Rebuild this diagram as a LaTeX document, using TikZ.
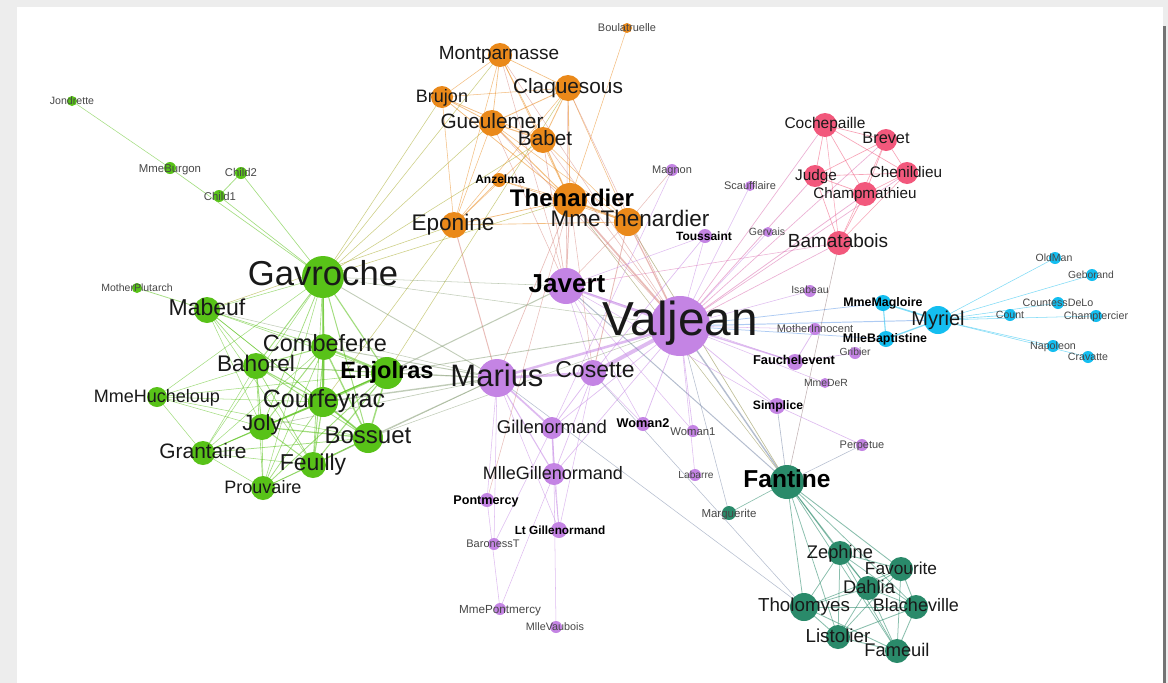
\documentclass[tikz,border=0pt]{standalone}
\usepackage{fontspec}
\setmainfont{Liberation Sans}
\pgfdeclarelayer{frame}
\pgfdeclarelayer{edges}
\pgfsetlayers{frame,edges,main}
\definecolor{grn}{RGB}{88,194,24}
\definecolor{org}{RGB}{234,137,26}
\definecolor{pnk}{RGB}{242,88,124}
\definecolor{pur}{RGB}{196,132,228}
\definecolor{blu}{RGB}{20,190,240}
\definecolor{tea}{RGB}{42,138,106}
\tikzset{
 nd/.style={circle,inner sep=0pt,draw=none},
 lb/.style={inner sep=0pt,text=black!90,font=\fontsize{#1}{#1}\selectfont},
 lbb/.style={inner sep=0pt,text=black,font=\bfseries\fontsize{#1}{#1}\selectfont},
 lbs/.style={inner sep=0pt,text=black!72,font=\fontsize{#1}{#1}\selectfont},
 edgeline/.style={draw opacity=0.55,line cap=round},
}
\newcommand\gnd[5]{\colorlet{c#1}{#5}\node[nd,minimum size=#4pt,fill=#5] (#1) at (#2,#3) {};}
\newcommand\glb[6]{\node[#5=#6,anchor=base,yshift={-0.36*#6pt}] (l#1) at (#2,#3) {#4};}
\newcommand\ged[3]{\pgfmathsetmacro\gedw{0.42+0.11*#3}\draw[edgeline,line width=\gedw pt,draw=c#1!50!c#2] (#1.center) -- (#2.center);}
\begin{document}
\begin{tikzpicture}[x=1pt,y=-1pt]
\useasboundingbox (0,0) rectangle (1168,683);
\begin{pgfonlayer}{frame}
\fill[black!7] (0,0) rectangle (1168,683);
\fill[white] (17,7) rectangle (1163,683);
\fill[black!55] (1163,26) rectangle (1166,683);
\end{pgfonlayer}
% ---- nodes: green
\gnd{Jondrette}{72}{101}{10}{grn}
\gnd{MmeBurgon}{170}{168}{12}{grn}
\gnd{Child2}{241}{173}{12}{grn}
\gnd{Child1}{219}{196}{12}{grn}
\gnd{MotherPlutarch}{137}{288}{10}{grn}
\gnd{Gavroche}{323}{277}{42}{grn}
\gnd{Mabeuf}{207}{310}{26}{grn}
\gnd{Combeferre}{324}{347}{26}{grn}
\gnd{Bahorel}{256}{366}{26}{grn}
\gnd{Enjolras}{387}{373}{32}{grn}
\gnd{MmeHucheloup}{157}{397}{20}{grn}
\gnd{Courfeyrac}{323}{402}{30}{grn}
\gnd{Joly}{262}{427}{26}{grn}
\gnd{Bossuet}{368}{438}{30}{grn}
\gnd{Grantaire}{203}{453}{24}{grn}
\gnd{Feuilly}{313}{465}{26}{grn}
\gnd{Prouvaire}{263}{488}{24}{grn}
% orange
\gnd{Boulatruelle}{627}{28}{10}{org}
\gnd{Montparnasse}{500}{55}{24}{org}
\gnd{Claquesous}{568}{88}{26}{org}
\gnd{Brujon}{442}{97}{22}{org}
\gnd{Gueulemer}{492}{123}{26}{org}
\gnd{Babet}{543}{140}{26}{org}
\gnd{Anzelma}{499}{180}{14}{org}
\gnd{Thenardier}{570}{200}{34}{org}
\gnd{MmeThenardier}{628}{222}{28}{org}
\gnd{Eponine}{454}{225}{26}{org}
% pink
\gnd{Cochepaille}{825}{125}{24}{pnk}
\gnd{Brevet}{886}{140}{22}{pnk}
\gnd{Chenildieu}{907}{173}{22}{pnk}
\gnd{Judge}{815}{176}{22}{pnk}
\gnd{Champmathieu}{865}{194}{24}{pnk}
\gnd{Bamatabois}{839}{243}{24}{pnk}
% blue
\gnd{MmeMagloire}{883}{303}{16}{blu}
\gnd{Myriel}{938}{320}{28}{blu}
\gnd{MlleBaptistine}{886}{339}{16}{blu}
\gnd{OldMan}{1055}{258}{12}{blu}
\gnd{Geborand}{1092}{275}{12}{blu}
\gnd{CountessDeLo}{1058}{303}{12}{blu}
\gnd{Count}{1010}{315}{12}{blu}
\gnd{Champtercier}{1096}{316}{12}{blu}
\gnd{Napoleon}{1053}{346}{12}{blu}
\gnd{Cravatte}{1088}{357}{12}{blu}
% purple
\gnd{Magnon}{672}{170}{12}{pur}
\gnd{Scaufflaire}{750}{186}{10}{pur}
\gnd{Gervais}{768}{232}{10}{pur}
\gnd{Toussaint}{705}{236}{14}{pur}
\gnd{Isabeau}{810}{291}{12}{pur}
\gnd{MotherInnocent}{815}{329}{12}{pur}
\gnd{Gribier}{855}{353}{12}{pur}
\gnd{Fauchelevent}{795}{362}{16}{pur}
\gnd{MmeDeR}{825}{383}{10}{pur}
\gnd{Javert}{566}{286}{36}{pur}
\gnd{Valjean}{680}{326}{60}{pur}
\gnd{Marius}{497}{378}{38}{pur}
\gnd{Cosette}{593}{373}{26}{pur}
\gnd{Gillenormand}{552}{428}{22}{pur}
\gnd{Woman2}{643}{424}{14}{pur}
\gnd{Woman1}{693}{431}{12}{pur}
\gnd{MlleGillenormand}{554}{474}{22}{pur}
\gnd{Labarre}{695}{475}{12}{pur}
\gnd{Pontmercy}{487}{500}{14}{pur}
\gnd{LtGillenormand}{559}{530}{16}{pur}
\gnd{BaronessT}{494}{544}{12}{pur}
\gnd{MmePontmercy}{500}{609}{12}{pur}
\gnd{MlleVaubois}{556}{627}{12}{pur}
\gnd{Simplice}{777}{406}{16}{pur}
\gnd{Perpetue}{862}{445}{12}{pur}
% teal
\gnd{Marguerite}{729}{513}{14}{tea}
\gnd{Fantine}{787}{482}{34}{tea}
\gnd{Zephine}{840}{553}{24}{tea}
\gnd{Favourite}{901}{569}{24}{tea}
\gnd{Dahlia}{868}{588}{24}{tea}
\gnd{Tholomyes}{804}{607}{28}{tea}
\gnd{Blacheville}{916}{607}{24}{tea}
\gnd{Listolier}{838}{637}{24}{tea}
\gnd{Fameuil}{897}{651}{24}{tea}
% ---- edges
\begin{pgfonlayer}{edges}
\ged{Napoleon}{Myriel}{1}
\ged{MlleBaptistine}{Myriel}{8}
\ged{MmeMagloire}{Myriel}{10}
\ged{MmeMagloire}{MlleBaptistine}{6}
\ged{CountessDeLo}{Myriel}{1}
\ged{Geborand}{Myriel}{1}
\ged{Champtercier}{Myriel}{1}
\ged{Cravatte}{Myriel}{1}
\ged{Count}{Myriel}{2}
\ged{OldMan}{Myriel}{1}
\ged{Valjean}{Labarre}{1}
\ged{Valjean}{MmeMagloire}{3}
\ged{Valjean}{MlleBaptistine}{3}
\ged{Valjean}{Myriel}{5}
\ged{Marguerite}{Valjean}{1}
\ged{MmeDeR}{Valjean}{1}
\ged{Isabeau}{Valjean}{1}
\ged{Gervais}{Valjean}{1}
\ged{Listolier}{Tholomyes}{4}
\ged{Fameuil}{Tholomyes}{4}
\ged{Fameuil}{Listolier}{4}
\ged{Blacheville}{Tholomyes}{4}
\ged{Blacheville}{Listolier}{4}
\ged{Blacheville}{Fameuil}{4}
\ged{Favourite}{Tholomyes}{3}
\ged{Favourite}{Listolier}{3}
\ged{Favourite}{Fameuil}{3}
\ged{Favourite}{Blacheville}{4}
\ged{Dahlia}{Tholomyes}{3}
\ged{Dahlia}{Listolier}{3}
\ged{Dahlia}{Fameuil}{3}
\ged{Dahlia}{Blacheville}{3}
\ged{Dahlia}{Favourite}{5}
\ged{Zephine}{Tholomyes}{3}
\ged{Zephine}{Listolier}{3}
\ged{Zephine}{Fameuil}{3}
\ged{Zephine}{Blacheville}{3}
\ged{Zephine}{Favourite}{4}
\ged{Zephine}{Dahlia}{4}
\ged{Fantine}{Tholomyes}{3}
\ged{Fantine}{Listolier}{3}
\ged{Fantine}{Fameuil}{3}
\ged{Fantine}{Blacheville}{3}
\ged{Fantine}{Favourite}{4}
\ged{Fantine}{Dahlia}{4}
\ged{Fantine}{Zephine}{4}
\ged{Fantine}{Marguerite}{2}
\ged{Fantine}{Valjean}{9}
\ged{MmeThenardier}{Fantine}{2}
\ged{MmeThenardier}{Valjean}{7}
\ged{Thenardier}{MmeThenardier}{13}
\ged{Thenardier}{Fantine}{1}
\ged{Thenardier}{Valjean}{12}
\ged{Cosette}{MmeThenardier}{4}
\ged{Cosette}{Valjean}{31}
\ged{Cosette}{Tholomyes}{1}
\ged{Cosette}{Thenardier}{1}
\ged{Javert}{Valjean}{17}
\ged{Javert}{Fantine}{5}
\ged{Javert}{Thenardier}{5}
\ged{Javert}{MmeThenardier}{1}
\ged{Javert}{Cosette}{1}
\ged{Fauchelevent}{Valjean}{8}
\ged{Fauchelevent}{Javert}{1}
\ged{Bamatabois}{Fantine}{1}
\ged{Bamatabois}{Javert}{1}
\ged{Bamatabois}{Valjean}{2}
\ged{Perpetue}{Fantine}{1}
\ged{Simplice}{Perpetue}{2}
\ged{Simplice}{Valjean}{3}
\ged{Simplice}{Fantine}{2}
\ged{Simplice}{Javert}{1}
\ged{Scaufflaire}{Valjean}{1}
\ged{Woman1}{Valjean}{2}
\ged{Woman1}{Javert}{1}
\ged{Judge}{Valjean}{3}
\ged{Judge}{Bamatabois}{2}
\ged{Champmathieu}{Valjean}{3}
\ged{Champmathieu}{Judge}{3}
\ged{Champmathieu}{Bamatabois}{2}
\ged{Brevet}{Judge}{2}
\ged{Brevet}{Champmathieu}{2}
\ged{Brevet}{Valjean}{2}
\ged{Brevet}{Bamatabois}{1}
\ged{Chenildieu}{Judge}{2}
\ged{Chenildieu}{Champmathieu}{2}
\ged{Chenildieu}{Brevet}{2}
\ged{Chenildieu}{Valjean}{2}
\ged{Chenildieu}{Bamatabois}{1}
\ged{Cochepaille}{Judge}{2}
\ged{Cochepaille}{Champmathieu}{2}
\ged{Cochepaille}{Brevet}{2}
\ged{Cochepaille}{Chenildieu}{2}
\ged{Cochepaille}{Valjean}{2}
\ged{Cochepaille}{Bamatabois}{1}
\ged{Pontmercy}{Thenardier}{1}
\ged{Boulatruelle}{Thenardier}{1}
\ged{Eponine}{MmeThenardier}{2}
\ged{Eponine}{Thenardier}{3}
\ged{Anzelma}{Eponine}{2}
\ged{Anzelma}{Thenardier}{1}
\ged{Anzelma}{MmeThenardier}{1}
\ged{Woman2}{Valjean}{3}
\ged{Woman2}{Cosette}{1}
\ged{Woman2}{Javert}{1}
\ged{MotherInnocent}{Fauchelevent}{3}
\ged{MotherInnocent}{Valjean}{1}
\ged{Gribier}{Fauchelevent}{2}
\ged{MmeBurgon}{Jondrette}{1}
\ged{Gavroche}{MmeBurgon}{2}
\ged{Gavroche}{Thenardier}{1}
\ged{Gavroche}{Javert}{1}
\ged{Gavroche}{Valjean}{1}
\ged{Gillenormand}{Cosette}{3}
\ged{Gillenormand}{Valjean}{2}
\ged{Magnon}{Gillenormand}{1}
\ged{Magnon}{MmeThenardier}{1}
\ged{MlleGillenormand}{Gillenormand}{9}
\ged{MlleGillenormand}{Cosette}{2}
\ged{MlleGillenormand}{Valjean}{2}
\ged{MmePontmercy}{MlleGillenormand}{1}
\ged{MmePontmercy}{Pontmercy}{1}
\ged{MlleVaubois}{MlleGillenormand}{1}
\ged{LtGillenormand}{MlleGillenormand}{2}
\ged{LtGillenormand}{Gillenormand}{1}
\ged{LtGillenormand}{Cosette}{1}
\ged{Marius}{MlleGillenormand}{6}
\ged{Marius}{Gillenormand}{12}
\ged{Marius}{Pontmercy}{1}
\ged{Marius}{LtGillenormand}{1}
\ged{Marius}{Cosette}{21}
\ged{Marius}{Valjean}{19}
\ged{Marius}{Tholomyes}{1}
\ged{Marius}{Thenardier}{2}
\ged{Marius}{Eponine}{5}
\ged{Marius}{Gavroche}{4}
\ged{BaronessT}{Gillenormand}{1}
\ged{BaronessT}{Marius}{1}
\ged{Mabeuf}{Marius}{1}
\ged{Mabeuf}{Eponine}{1}
\ged{Mabeuf}{Gavroche}{1}
\ged{Enjolras}{Marius}{7}
\ged{Enjolras}{Gavroche}{7}
\ged{Enjolras}{Javert}{6}
\ged{Enjolras}{Mabeuf}{1}
\ged{Enjolras}{Valjean}{4}
\ged{Combeferre}{Enjolras}{15}
\ged{Combeferre}{Marius}{5}
\ged{Combeferre}{Gavroche}{6}
\ged{Combeferre}{Mabeuf}{2}
\ged{Prouvaire}{Gavroche}{1}
\ged{Prouvaire}{Enjolras}{4}
\ged{Prouvaire}{Combeferre}{2}
\ged{Feuilly}{Gavroche}{2}
\ged{Feuilly}{Enjolras}{6}
\ged{Feuilly}{Prouvaire}{2}
\ged{Feuilly}{Combeferre}{5}
\ged{Feuilly}{Mabeuf}{1}
\ged{Feuilly}{Marius}{1}
\ged{Courfeyrac}{Marius}{9}
\ged{Courfeyrac}{Enjolras}{17}
\ged{Courfeyrac}{Combeferre}{13}
\ged{Courfeyrac}{Gavroche}{7}
\ged{Courfeyrac}{Mabeuf}{2}
\ged{Courfeyrac}{Eponine}{1}
\ged{Courfeyrac}{Feuilly}{6}
\ged{Courfeyrac}{Prouvaire}{3}
\ged{Bahorel}{Combeferre}{5}
\ged{Bahorel}{Gavroche}{5}
\ged{Bahorel}{Courfeyrac}{6}
\ged{Bahorel}{Mabeuf}{2}
\ged{Bahorel}{Enjolras}{4}
\ged{Bahorel}{Feuilly}{3}
\ged{Bahorel}{Prouvaire}{2}
\ged{Bahorel}{Marius}{1}
\ged{Bossuet}{Marius}{5}
\ged{Bossuet}{Courfeyrac}{12}
\ged{Bossuet}{Gavroche}{5}
\ged{Bossuet}{Bahorel}{4}
\ged{Bossuet}{Enjolras}{10}
\ged{Bossuet}{Feuilly}{6}
\ged{Bossuet}{Prouvaire}{2}
\ged{Bossuet}{Combeferre}{9}
\ged{Bossuet}{Mabeuf}{1}
\ged{Bossuet}{Valjean}{1}
\ged{Joly}{Bahorel}{5}
\ged{Joly}{Bossuet}{7}
\ged{Joly}{Gavroche}{3}
\ged{Joly}{Courfeyrac}{5}
\ged{Joly}{Enjolras}{5}
\ged{Joly}{Feuilly}{5}
\ged{Joly}{Prouvaire}{2}
\ged{Joly}{Combeferre}{5}
\ged{Joly}{Mabeuf}{1}
\ged{Joly}{Marius}{2}
\ged{Grantaire}{Bossuet}{3}
\ged{Grantaire}{Enjolras}{3}
\ged{Grantaire}{Combeferre}{1}
\ged{Grantaire}{Courfeyrac}{2}
\ged{Grantaire}{Joly}{1}
\ged{Grantaire}{Gavroche}{1}
\ged{Grantaire}{Bahorel}{1}
\ged{Grantaire}{Feuilly}{1}
\ged{Grantaire}{Prouvaire}{1}
\ged{MotherPlutarch}{Mabeuf}{3}
\ged{Gueulemer}{Thenardier}{5}
\ged{Gueulemer}{Valjean}{1}
\ged{Gueulemer}{MmeThenardier}{1}
\ged{Gueulemer}{Javert}{1}
\ged{Gueulemer}{Gavroche}{1}
\ged{Gueulemer}{Eponine}{1}
\ged{Babet}{Thenardier}{6}
\ged{Babet}{Gueulemer}{6}
\ged{Babet}{Valjean}{1}
\ged{Babet}{MmeThenardier}{1}
\ged{Babet}{Javert}{2}
\ged{Babet}{Gavroche}{1}
\ged{Babet}{Eponine}{1}
\ged{Claquesous}{Thenardier}{4}
\ged{Claquesous}{Gueulemer}{4}
\ged{Claquesous}{Valjean}{1}
\ged{Claquesous}{MmeThenardier}{1}
\ged{Claquesous}{Javert}{1}
\ged{Claquesous}{Eponine}{1}
\ged{Claquesous}{Enjolras}{1}
\ged{Claquesous}{Babet}{4}
\ged{Montparnasse}{Javert}{1}
\ged{Montparnasse}{Babet}{2}
\ged{Montparnasse}{Gueulemer}{2}
\ged{Montparnasse}{Claquesous}{2}
\ged{Montparnasse}{Valjean}{1}
\ged{Montparnasse}{Gavroche}{1}
\ged{Montparnasse}{Eponine}{1}
\ged{Montparnasse}{Thenardier}{1}
\ged{Toussaint}{Cosette}{2}
\ged{Toussaint}{Javert}{1}
\ged{Toussaint}{Valjean}{1}
\ged{Child1}{Gavroche}{2}
\ged{Child2}{Gavroche}{2}
\ged{Child2}{Child1}{3}
\ged{Brujon}{Babet}{3}
\ged{Brujon}{Gueulemer}{3}
\ged{Brujon}{Thenardier}{3}
\ged{Brujon}{Gavroche}{1}
\ged{Brujon}{Eponine}{1}
\ged{Brujon}{Claquesous}{1}
\ged{Brujon}{Montparnasse}{1}
\ged{MmeHucheloup}{Bossuet}{1}
\ged{MmeHucheloup}{Joly}{1}
\ged{MmeHucheloup}{Grantaire}{1}
\ged{MmeHucheloup}{Bahorel}{1}
\ged{MmeHucheloup}{Courfeyrac}{1}
\ged{MmeHucheloup}{Gavroche}{1}
\ged{MmeHucheloup}{Enjolras}{1}
\end{pgfonlayer}
% ---- labels
\glb{Jondrette}{72}{101}{Jondrette}{lbs}{10.6}
\glb{MmeBurgon}{170}{168}{MmeBurgon}{lbs}{11.4}
\glb{Child2}{241}{172}{Child2}{lbs}{11.3}
\glb{Child1}{220}{196}{Child1}{lbs}{11.3}
\glb{MotherPlutarch}{137}{288}{MotherPlutarch}{lbs}{10.5}
\glb{Gavroche}{323}{273}{Gavroche}{lb}{34.6}
\glb{Mabeuf}{207}{307}{Mabeuf}{lb}{23}
\glb{Combeferre}{325}{343}{Combeferre}{lb}{23.5}
\glb{Bahorel}{256}{363}{Bahorel}{lb}{22.6}
\glb{Enjolras}{387}{370}{Enjolras}{lbb}{23.6}
\glb{MmeHucheloup}{157}{396}{MmeHucheloup}{lb}{18}
\glb{Courfeyrac}{324}{398}{Courfeyrac}{lb}{25}
\glb{Joly}{262}{423}{Joly}{lb}{22}
\glb{Bossuet}{368}{435}{Bossuet}{lb}{24}
\glb{Grantaire}{203}{451}{Grantaire}{lb}{20.9}
\glb{Feuilly}{313}{462}{Feuilly}{lb}{23}
\glb{Prouvaire}{263}{487}{Prouvaire}{lb}{18}
\glb{Boulatruelle}{627}{28}{Boulatruelle}{lbs}{11}
\glb{Montparnasse}{499}{53}{Montparnasse}{lb}{19}
\glb{Claquesous}{568}{86}{Claquesous}{lb}{20.8}
\glb{Brujon}{442}{96}{Brujon}{lb}{18}
\glb{Gueulemer}{492}{121}{Gueulemer}{lb}{20.8}
\glb{Babet}{545}{138}{Babet}{lb}{20.7}
\glb{Anzelma}{500}{179}{Anzelma}{lbb}{12}
\glb{Thenardier}{572}{198}{Thenardier}{lbb}{24}
\glb{MmeThenardier}{630}{218}{MmeThenardier}{lb}{22.5}
\glb{Eponine}{453}{222}{Eponine}{lb}{22.6}
\glb{Cochepaille}{825}{123}{Cochepaille}{lb}{15.5}
\glb{Brevet}{886}{138}{Brevet}{lb}{16.3}
\glb{Chenildieu}{906}{172}{Chenildieu}{lb}{15.3}
\glb{Judge}{816}{175}{Judge}{lb}{15.3}
\glb{Champmathieu}{865}{193}{Champmathieu}{lb}{15.2}
\glb{Bamatabois}{838}{241}{Bamatabois}{lb}{19}
\glb{MmeMagloire}{883}{302}{MmeMagloire}{lbb}{12.4}
\glb{Myriel}{938}{318}{Myriel}{lb}{20}
\glb{MlleBaptistine}{885}{338}{MlleBaptistine}{lbb}{12.4}
\glb{OldMan}{1054}{258}{OldMan}{lbs}{10.5}
\glb{Geborand}{1091}{275}{Geborand}{lbs}{10.3}
\glb{CountessDeLo}{1058}{303}{CountessDeLo}{lbs}{10.7}
\glb{Count}{1010}{315}{Count}{lbs}{10.5}
\glb{Champtercier}{1096}{316}{Champtercier}{lbs}{10.7}
\glb{Napoleon}{1053}{346}{Napoleon}{lbs}{10.7}
\glb{Cravatte}{1088}{357}{Cravatte}{lbs}{10.6}
\glb{Magnon}{672}{170}{Magnon}{lbs}{11}
\glb{Scaufflaire}{750}{186}{Scaufflaire}{lbs}{11}
\glb{Gervais}{767}{232}{Gervais}{lbs}{10.5}
\glb{Toussaint}{704}{236}{Toussaint}{lbb}{12}
\glb{Isabeau}{810}{290}{Isabeau}{lbs}{10.5}
\glb{MotherInnocent}{815}{329}{MotherInnocent}{lbs}{11}
\glb{Gribier}{855}{352}{Gribier}{lbs}{10.3}
\glb{Fauchelevent}{794}{360}{Fauchelevent}{lbb}{12.8}
\glb{MmeDeR}{826}{383}{MmeDeR}{lbs}{10.4}
\glb{Javert}{567}{283}{Javert}{lbb}{26}
\glb{Valjean}{680}{318}{Valjean}{lb}{47.7}
\glb{Marius}{497}{375}{Marius}{lb}{31}
\glb{Cosette}{595}{369}{Cosette}{lb}{23}
\glb{Gillenormand}{552}{427}{Gillenormand}{lb}{18.5}
\glb{Woman2}{643}{423}{Woman2}{lbb}{12.7}
\glb{Woman1}{693}{431}{Woman1}{lbs}{11.3}
\glb{MlleGillenormand}{553}{473}{MlleGillenormand}{lb}{18}
\glb{Labarre}{696}{475}{Labarre}{lbs}{10.2}
\glb{Pontmercy}{486}{500}{Pontmercy}{lbb}{12.6}
\glb{LtGillenormand}{560}{530}{Lt Gillenormand}{lbb}{11.8}
\glb{BaronessT}{493}{544}{BaronessT}{lbs}{11}
\glb{MmePontmercy}{500}{609}{MmePontmercy}{lbs}{11.7}
\glb{MlleVaubois}{555}{627}{MlleVaubois}{lbs}{10.8}
\glb{Simplice}{778}{405}{Simplice}{lbb}{12.2}
\glb{Perpetue}{862}{445}{Perpetue}{lbs}{11}
\glb{Marguerite}{729}{513}{Marguerite}{lbs}{11.5}
\glb{Fantine}{787}{479}{Fantine}{lbb}{24.5}
\glb{Zephine}{840}{552}{Zephine}{lb}{18.3}
\glb{Favourite}{901}{568}{Favourite}{lb}{17.3}
\glb{Dahlia}{869}{587}{Dahlia}{lb}{18.3}
\glb{Tholomyes}{804}{605}{Tholomyes}{lb}{18.8}
\glb{Blacheville}{916}{605}{Blacheville}{lb}{18}
\glb{Listolier}{838}{636}{Listolier}{lb}{18.8}
\glb{Fameuil}{897}{650}{Fameuil}{lb}{18.3}
\end{tikzpicture}
\end{document}
